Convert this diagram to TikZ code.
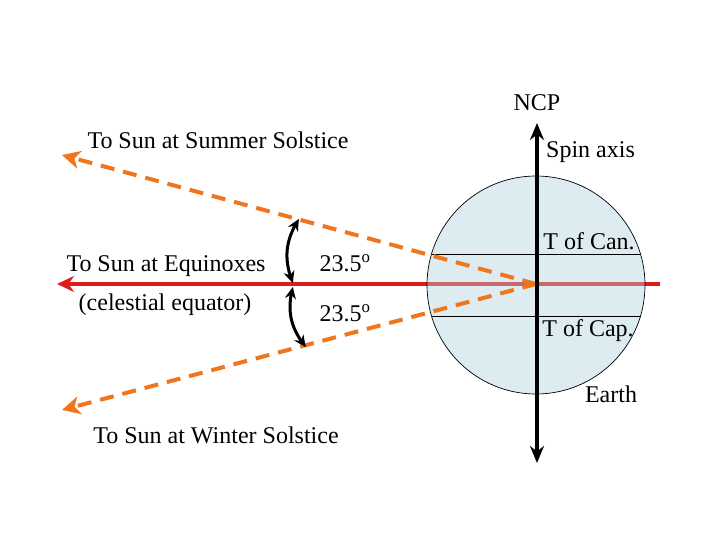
\documentclass[tikz,border=0pt]{standalone}
\usepackage{fontspec}
\setmainfont{Liberation Serif}
\usetikzlibrary{arrows.meta,bending}
\definecolor{sunorange}{RGB}{240,118,30}
\definecolor{eqred}{RGB}{222,28,28}
\definecolor{earthblue}{RGB}{174,210,222}
\tikzset{
  lbl/.style={font=\fontsize{24}{27}\selectfont, inner sep=0pt},
  sunray/.style={sunorange, line width=4pt, dash pattern=on 14pt off 9pt, -{Stealth[length=18pt,width=18pt,inset=5pt]}},
  eqline/.style={eqred, line width=4pt, -{Stealth[length=17pt,width=16pt]}},
  axisline/.style={black, line width=4.5pt, {Stealth[length=17pt,width=14pt]}-{Stealth[length=17pt,width=14pt]}},
  anglearrow/.style={black, line width=3pt, {Stealth[length=12pt,width=11pt,bend]}-{Stealth[length=12pt,width=11pt,bend]}},
  tropic/.style={black, line width=0.7pt},
}
\begin{document}
\begin{tikzpicture}[x=1pt,y=-1pt]
\useasboundingbox (0,0) rectangle (720,540);
% coordinates
\coordinate (ctr) at (536,285);
\coordinate (eqR) at (660,284);
\coordinate (eqL) at (57,284);
\coordinate (meet) at (536,284);
\coordinate (sumTip) at (62,155);
\coordinate (winTip) at (62,410);
\coordinate (axTop) at (537,123);
\coordinate (axBot) at (537,463);
\coordinate (a1) at (299,219);
\coordinate (a2) at (293,283);
\coordinate (a3) at (293,287);
\coordinate (a4) at (306,347);
\coordinate (canL) at (431.5,254);
\coordinate (canR) at (640.5,254);
\coordinate (capL) at (431.5,316);
\coordinate (capR) at (640.5,316);
% equator line
\draw[eqline] (eqR) -- (eqL);
% earth
\fill[earthblue, fill opacity=0.42] (ctr) circle[radius=109];
\draw[black, line width=0.7pt] (ctr) circle[radius=109];
\draw[tropic] (canL) -- (canR);
\draw[tropic] (capL) -- (capR);
% sun rays
\draw[sunray] (meet) -- (sumTip);
\draw[sunray] (meet) -- (winTip);
% axis
\draw[axisline] (axBot) -- (axTop);
% angle arrows
\draw[anglearrow] (a1) to[bend right=28] (a2);
\draw[anglearrow] (a3) to[bend right=28] (a4);
% labels
\node[lbl] (ncp) at (537,103) {NCP};
\node[lbl] (summer) at (218,140) {To Sun at Summer Solstice};
\node[lbl, anchor=west] (spin) at (546,152) {Spin axis};
\node[lbl] (tcan) at (589,241) {T of Can.};
\node[lbl] (equi) at (166,266) {To Sun at Equinoxes};
\node[lbl] (celeq) at (165,305) {(celestial equator)};
\node[lbl] (ang1) at (345,263) {23.5\textsuperscript{o}};
\node[lbl] (ang2) at (345,313) {23.5\textsuperscript{o}};
\node[lbl] (tcap) at (588,331) {T of Cap.};
\node[lbl] (earth) at (611,394) {Earth};
\node[lbl] (winter) at (216,435) {To Sun at Winter Solstice};
\end{tikzpicture}
\end{document}
